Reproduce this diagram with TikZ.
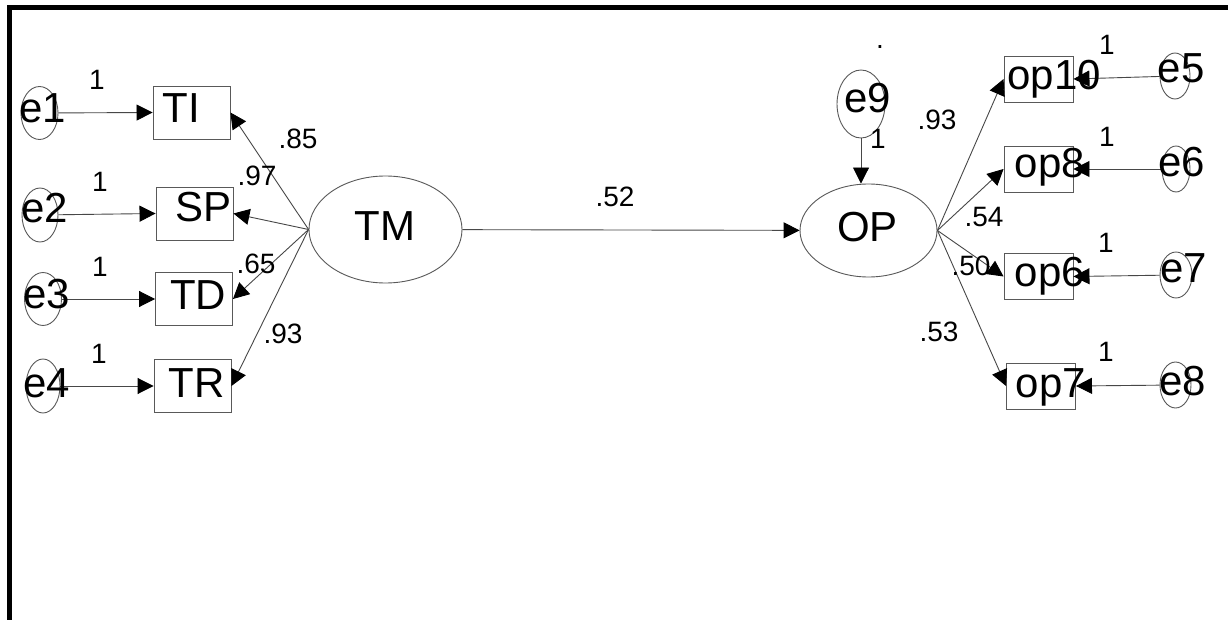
\documentclass[tikz,border=0pt]{standalone}
\usepackage{fontspec}
\setmainfont{Liberation Sans}
\usetikzlibrary{arrows.meta,shapes.geometric}
\begin{document}
\begin{tikzpicture}[x=1pt,y=-1pt,
  shapeline/.style={draw=black!65, line width=0.9pt},
  obsbox/.style={shapeline, rectangle, inner sep=0pt, minimum width=77pt, minimum height=53pt},
  obsboxr/.style={shapeline, rectangle, inner sep=0pt, minimum width=69pt, minimum height=46pt},
  latent/.style={shapeline, ellipse, inner sep=0pt},
  errnode/.style={shapeline, ellipse, inner sep=0pt},
  nodetext/.style={inner sep=0pt, anchor=base, font=\fontsize{42}{50}\selectfont},
  coef/.style={inner sep=0pt, font=\fontsize{28}{33}\selectfont},
  arr/.style={draw=black!72, line width=0.9pt, -{Triangle[length=16pt,width=16pt,color=black]}},
]
\useasboundingbox (0,0) rectangle (1228,620);
\fill[white] (0,0) rectangle (1228,620);
% frame
\draw[line width=5pt] (1228,7.5) -- (9,7.5) -- (9,620);

% latent variables
\node[latent, minimum width=153pt, minimum height=107pt] (TM) at (385.5,229.5) {};
\node[latent, minimum width=137pt, minimum height=93pt] (OP) at (868.5,230.5) {};

% observed boxes
\node[obsbox] (TI) at (191.5,112.5) {};
\node[obsbox] (SP) at (194.5,213.5) {};
\node[obsbox] (TD) at (194,299) {};
\node[obsbox] (TR) at (192.5,386) {};
\node[obsboxr] (op10) at (1038.5,79) {};
\node[obsboxr] (op8) at (1038.5,169) {};
\node[obsboxr] (op6) at (1038.5,276.5) {};
\node[obsboxr] (op7) at (1041,386) {};

% error terms
\node[errnode, minimum width=37pt, minimum height=53pt] (e1) at (39.5,113) {};
\node[errnode, minimum width=36pt, minimum height=54pt] (e2) at (40,215) {};
\node[errnode, minimum width=37pt, minimum height=53pt] (e3) at (43,299) {};
\node[errnode, minimum width=34pt, minimum height=54pt] (e4) at (43,386) {};
\node[errnode, minimum width=30pt, minimum height=46pt] (e5) at (1175,76) {};
\node[errnode, minimum width=28pt, minimum height=46pt] (e6) at (1176,169) {};
\node[errnode, minimum width=32pt, minimum height=46pt] (e7) at (1176,275) {};
\node[errnode, minimum width=31pt, minimum height=46pt] (e8) at (1175.5,385) {};
\node[errnode, minimum width=48pt, minimum height=68pt] (e9) at (861,104) {};

% connectors
\draw[arr] (e1) -- (TI.west);
\draw[arr] (e2) -- (SP.west);
\draw[arr] (e3) -- (TD.west);
\draw[arr] (e4) -- (TR.west);
\draw[arr] (TM.west) -- (TI.east);
\draw[arr] (TM.west) -- (SP.east);
\draw[arr] (TM.west) -- (TD.east);
\draw[arr] (TM.west) -- (TR.east);
\draw[arr] (TM) -- (OP);
\draw[arr] (e9.south) -- (e9.south |- OP.north);
\draw[arr] (OP.east) -- (op10.west);
\draw[arr] (OP.east) -- (op8.west);
\draw[arr] (OP.east) -- (op6.west);
\draw[arr] (OP.east) -- (op7.west);
\draw[arr] (e5) -- (op10.east);
\draw[arr] (e6) -- (op8.east);
\draw[arr] (e7) -- (op6.east);
\draw[arr] (e8) -- (op7.east);

% node texts
\node[nodetext] (TMt) at (385,240.7) {TM};
\node[nodetext] (OPt) at (867.5,242) {OP};
\node[nodetext] (TIt) at (181.5,123) {TI};
\node[nodetext] (SPt) at (203.5,222) {SP};
\node[nodetext] (TDt) at (198,309) {TD};
\node[nodetext] (TRt) at (196.5,397) {TR};
\node[nodetext] (op10t) at (1054,90) {op10};
\node[nodetext] (op8t) at (1050,178) {op8};
\node[nodetext] (op6t) at (1050,286) {op6};
\node[nodetext] (op7t) at (1051,397) {op7};
\node[nodetext] (e1t) at (42.5,123) {e1};
\node[nodetext] (e2t) at (45,223) {e2};
\node[nodetext] (e3t) at (46.5,308) {e3};
\node[nodetext] (e4t) at (46.5,397) {e4};
\node[nodetext] (e5t) at (1181,83) {e5};
\node[nodetext] (e6t) at (1181.5,177) {e6};
\node[nodetext] (e7t) at (1183.5,282) {e7};
\node[nodetext] (e8t) at (1182.5,395) {e8};
\node[nodetext] (e9t) at (867.5,113) {e9};

% coefficients
\node[coef] (c1) at (97,80) {1};
\node[coef] (c2) at (100,182) {1};
\node[coef] (c3) at (100,267) {1};
\node[coef] (c4) at (99,354) {1};
\node[coef] (c85) at (298,139) {.85};
\node[coef] (c97) at (257,176) {.97};
\node[coef] (c65) at (256,264) {.65};
\node[coef] (c93l) at (283,334) {.93};
\node[coef] (c52) at (615,197) {.52};
\node[coef] (cdot) at (880,47) {.};
\node[coef] (c9) at (878,139) {1};
\node[coef] (c93r) at (937,120) {.93};
\node[coef] (c5) at (1107,45) {1};
\node[coef] (c6) at (1107,137) {1};
\node[coef] (c54) at (984,217) {.54};
\node[coef] (c7) at (1106,243) {1};
\node[coef] (c50) at (971,266) {.50};
\node[coef] (c53) at (939,332) {.53};
\node[coef] (c8) at (1106,352) {1};
\end{tikzpicture}
\end{document}
